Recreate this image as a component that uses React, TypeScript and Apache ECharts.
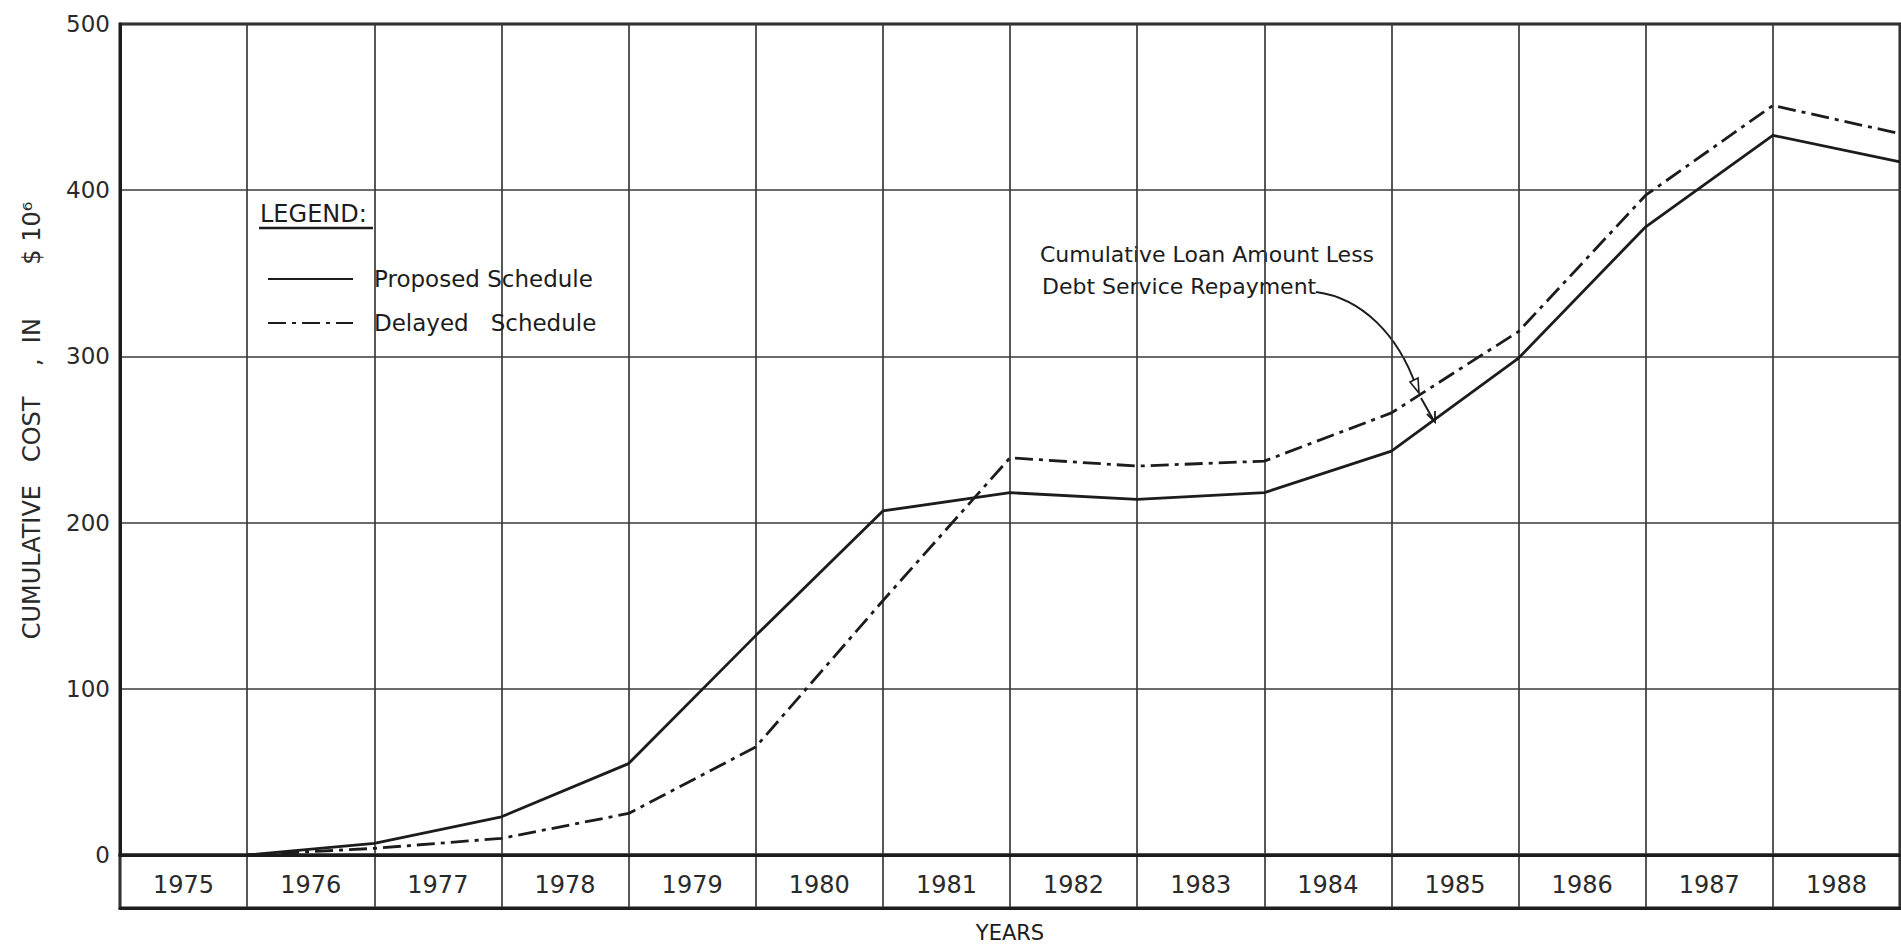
import React, { useEffect, useRef } from 'react';
import * as echarts from 'echarts';

// Year columns shown in the table row under the plot
const yearLabels = ['1975', '1976', '1977', '1978', '1979', '1980', '1981', '1982', '1983', '1984', '1985', '1986', '1987', '1988'];
// Points are plotted at year boundaries (start of each year)
const pointYears = [1976, 1977, 1978, 1979, 1980, 1981, 1982, 1983, 1984, 1985, 1986, 1987, 1988, 1989];
// Cumulative cost, in $ 10^6
const proposedSchedule = [0, 7, 23, 55, 132, 207, 218, 214, 218, 243, 299, 378, 433, 417];
const delayedSchedule = [0, 4, 10, 25, 65, 153, 239, 234, 237, 266, 315, 397, 451, 434];
// Axis ranges
const costAxis = { min: 0, max: 500, step: 100 };
const yearAxis = { min: 1975, max: 1989, step: 1 };

const INK = '#1c1c1c';
const GRID = '#3a3a3a';
const FONT = 'DejaVu Sans';

export default function App() {
  const ref = useRef<HTMLDivElement>(null);

  useEffect(() => {
    const chart = echarts.init(ref.current as HTMLDivElement, null, { renderer: 'svg' });
    const pair = (vals: number[]) => vals.map((v, i) => [pointYears[i], v]);

    const option: any = {
      animation: false,
      backgroundColor: '#ffffff',
      textStyle: { fontFamily: FONT, color: INK },
      grid: [
        { left: 120, right: 1, top: 24, height: 831, show: true, borderColor: INK, borderWidth: 3, backgroundColor: 'transparent' },
        { left: 120, right: 1, top: 855, height: 53, show: true, borderColor: INK, borderWidth: 3, backgroundColor: 'transparent' },
      ],
      xAxis: [
        {
          type: 'value',
          gridIndex: 0,
          min: yearAxis.min,
          max: yearAxis.max,
          interval: yearAxis.step,
          axisLine: { show: true, lineStyle: { color: INK, width: 3 } },
          axisTick: { show: false },
          axisLabel: { show: false },
          splitLine: { show: true, lineStyle: { color: GRID, width: 1.7 } },
        },
        {
          type: 'category',
          gridIndex: 1,
          data: yearLabels,
          boundaryGap: true,
          position: 'bottom',
          axisLine: { show: true, lineStyle: { color: INK, width: 3 } },
          axisTick: { show: false },
          axisLabel: { show: true, inside: true, interval: 0, margin: 11, fontSize: 24, color: '#2a2a2a', fontFamily: FONT },
          splitLine: { show: true, interval: 0, lineStyle: { color: GRID, width: 1.7 } },
          name: 'YEARS',
          nameLocation: 'middle',
          nameGap: 14,
          nameTextStyle: { fontSize: 21, color: INK, fontFamily: FONT },
        },
      ],
      yAxis: [
        {
          type: 'value',
          gridIndex: 0,
          min: costAxis.min,
          max: costAxis.max,
          interval: costAxis.step,
          axisLine: { show: true, lineStyle: { color: INK, width: 3 } },
          axisTick: { show: false },
          axisLabel: { show: true, margin: 10, fontSize: 23, color: '#2a2a2a', fontFamily: FONT },
          splitLine: { show: true, lineStyle: { color: GRID, width: 1.7 } },
          name: 'CUMULATIVE   COST    ,  IN       $ 10\u2076',
          nameLocation: 'middle',
          nameRotate: 90,
          nameGap: 76,
          nameTextStyle: { fontSize: 24, color: '#2a2a2a', fontFamily: FONT, padding: [0, 0, 0, 38] },
        },
        { type: 'value', gridIndex: 1, show: false, min: 0, max: 1 },
      ],
      legend: {
        show: true,
        orient: 'vertical',
        left: 267,
        top: 267,
        padding: 0,
        itemWidth: 85,
        itemHeight: 20,
        itemGap: 20,
        selectedMode: false,
        itemStyle: { opacity: 0, borderWidth: 0 },
        textStyle: { fontSize: 23, color: INK, fontFamily: FONT, lineHeight: 24, padding: [0, 0, 0, 16] },
        data: ['Proposed Schedule', 'Delayed   Schedule'],
      },
      series: [
        {
          name: 'Proposed Schedule',
          type: 'line',
          xAxisIndex: 0,
          yAxisIndex: 0,
          data: pair(proposedSchedule),
          symbol: 'none',
          lineStyle: { color: INK, width: 2.8, type: 'solid' },
          itemStyle: { color: INK },
          z: 5,
        },
        {
          name: 'Delayed   Schedule',
          type: 'line',
          xAxisIndex: 0,
          yAxisIndex: 0,
          data: pair(delayedSchedule),
          symbol: 'none',
          lineStyle: { color: INK, width: 2.8, type: [18, 6, 4, 6] },
          itemStyle: { color: INK },
          z: 5,
        },
      ],
      graphic: [
        {
          type: 'text',
          x: 260,
          y: 214,
          style: { text: 'LEGEND:', fontSize: 24, fontFamily: FONT, fill: INK, align: 'left', verticalAlign: 'middle' },
        },
        {
          type: 'line',
          shape: { x1: 259, y1: 228, x2: 373, y2: 228 },
          style: { stroke: INK, lineWidth: 2.5 },
        },
        {
          type: 'text',
          x: 1040,
          y: 254,
          style: { text: 'Cumulative Loan Amount Less', fontSize: 22, fontFamily: FONT, fill: INK, align: 'left', verticalAlign: 'middle' },
        },
        {
          type: 'text',
          x: 1042,
          y: 286,
          style: { text: 'Debt Service Repayment', fontSize: 22, fontFamily: FONT, fill: INK, align: 'left', verticalAlign: 'middle' },
        },
        {
          type: 'bezierCurve',
          shape: { x1: 1316, y1: 292, cpx1: 1362, cpy1: 298, cpx2: 1398, cpy2: 335, x2: 1416, y2: 386 },
          style: { stroke: INK, lineWidth: 2, fill: 'none' },
        },
        {
          type: 'polygon',
          shape: { points: [[1419, 393], [1418, 378], [1410, 382]] },
          style: { stroke: INK, lineWidth: 1.6, fill: '#ffffff' },
        },
        {
          type: 'line',
          shape: { x1: 1421, y1: 398, x2: 1434, y2: 421 },
          style: { stroke: INK, lineWidth: 2 },
        },
        {
          type: 'polyline',
          shape: { points: [[1427, 414], [1435, 422], [1435, 411]] },
          style: { stroke: INK, lineWidth: 1.8, fill: 'none' },
        },
      ],
    };

    chart.setOption(option);
    return () => chart.dispose();
  }, []);

  return (
    <div
      ref={ref}
      style={{ position: 'fixed', left: 0, top: 0, width: 1901, height: 944, background: '#ffffff' }}
    />
  );
}
